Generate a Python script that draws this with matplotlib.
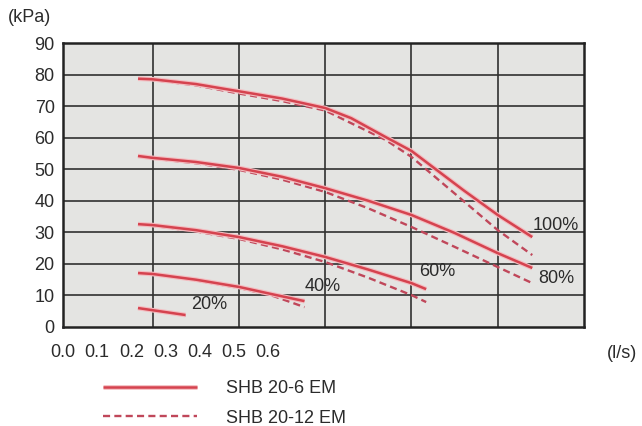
import matplotlib
matplotlib.use("Agg")
import matplotlib.pyplot as plt
import matplotlib.patheffects as pe

plt.rcParams["font.family"] = ["Liberation Sans", "DejaVu Sans"]

# flow (l/s) and pressure drop (kPa)
x_100 = [0.083, 0.10, 0.15, 0.20, 0.25, 0.30, 0.33, 0.37, 0.40, 0.46, 0.50, 0.54]
p_100_6 = [78.7, 78.5, 77.0, 74.7, 72.4, 69.4, 66.2, 60.2, 55.8, 43.4, 35.5, 28.5]
p_100_12 = [78.7, 78.3, 76.6, 74.0, 71.6, 68.6, 64.6, 59.3, 53.9, 40.0, 30.7, 22.8]

x_80 = [0.083, 0.10, 0.15, 0.20, 0.25, 0.30, 0.35, 0.40, 0.45, 0.50, 0.54]
p_80_6 = [54.2, 53.6, 52.3, 50.4, 47.6, 44.0, 40.0, 35.5, 29.8, 23.4, 18.7]
p_80_12 = [54.2, 53.4, 51.9, 49.8, 46.7, 42.8, 37.6, 31.7, 25.4, 19.0, 13.9]

x_60 = [0.083, 0.10, 0.15, 0.20, 0.25, 0.30, 0.35, 0.40, 0.417]
p_60_6 = [32.6, 32.3, 30.7, 28.5, 25.6, 22.2, 18.2, 13.9, 12.0]
p_60_12 = [32.6, 32.1, 30.3, 27.9, 24.6, 20.6, 15.6, 10.1, 7.9]

x_40 = [0.083, 0.10, 0.15, 0.20, 0.24, 0.276]
p_40_6 = [17.1, 16.8, 15.0, 12.7, 10.3, 8.2]
p_40_12 = [17.1, 16.7, 14.8, 12.4, 9.8, 6.3]

x_20 = [0.083, 0.138]
p_20_6 = [6.0, 3.8]
p_20_12 = [6.0, 3.6]

curves = [
    (x_100, p_100_6, p_100_12),
    (x_80, p_80_6, p_80_12),
    (x_60, p_60_6, p_60_12),
    (x_40, p_40_6, p_40_12),
    (x_20, p_20_6, p_20_12),
]

# curve labels: text, x (l/s), y (kPa)
label_text = ["100%", "80%", "60%", "40%", "20%"]
label_x = [0.540, 0.547, 0.409, 0.276, 0.144]
label_y = [32.3, 15.5, 17.7, 12.8, 7.0]

x_tick_labels = ["0.0", "0.1", "0.2", "0.3", "0.4", "0.5", "0.6"]
y_ticks = [0, 10, 20, 30, 40, 50, 60, 70, 80, 90]
x_grid = [0.1, 0.2, 0.3, 0.4, 0.5]

series_names = ["SHB 20-6 EM", "SHB 20-12 EM"]

solid_col = "#d5434f"
dash_col = "#c0475a"
txt_col = "#2b2b2b"
halo = [pe.Stroke(linewidth=3.4, foreground="#f4bcc0"), pe.Normal()]

fig = plt.figure(figsize=(6.42, 4.26), dpi=100)
ax = fig.add_axes([0.0981, 0.2324, 0.8116, 0.6666])
ax.set_facecolor("#e4e4e2")

for g in x_grid:
    ax.axvline(g, color="#303030", lw=1.2, zorder=1)
for t in y_ticks[1:-1]:
    ax.axhline(t, color="#303030", lw=1.2, zorder=1)

handles = []
for xs, p6, p12 in curves:
    l1, = ax.plot(xs, p6, color=solid_col, lw=1.8, zorder=3,
                  path_effects=halo, solid_capstyle="butt")
    l2, = ax.plot(xs, p12, color=dash_col, lw=1.7, ls=(0, (3, 1.8)),
                  zorder=2)
    if not handles:
        handles = [l1, l2]

for t, lx, ly in zip(label_text, label_x, label_y):
    ax.text(lx, ly, t, fontsize=13, color=txt_col, ha="left", va="center")

ax.set_xlim(0, 0.6)
ax.set_ylim(0, 90)

# tick labels are bunched at the left, not on the grid lines
step = 0.0396
ax.set_xticks([-0.004 + i * step for i in range(len(x_tick_labels))])
ax.set_xticklabels(x_tick_labels)
ax.set_yticks(y_ticks)
ax.tick_params(axis="both", length=0, labelsize=13, colors=txt_col)
ax.tick_params(axis="y", pad=6)
ax.tick_params(axis="x", pad=12)

for s in ax.spines.values():
    s.set_color("#222222")
    s.set_linewidth(1.8)

fig.text(8 / 642, 1 - 18 / 426, "(kPa)", fontsize=13, color=txt_col,
         ha="left", va="center")
fig.text(607 / 642, 1 - 353 / 426, "(l/s)", fontsize=13, color=txt_col,
         ha="left", va="center")

leg = ax.legend(handles, series_names, loc="upper left",
                bbox_to_anchor=(103 / 642, 1 - 380 / 426),
                bbox_transform=fig.transFigure, frameon=False,
                fontsize=13, handlelength=5.2, handletextpad=1.6,
                labelspacing=0.7, borderpad=0, borderaxespad=0)
for txt in leg.get_texts():
    txt.set_color(txt_col)

fig.savefig("out.png", dpi=100)
